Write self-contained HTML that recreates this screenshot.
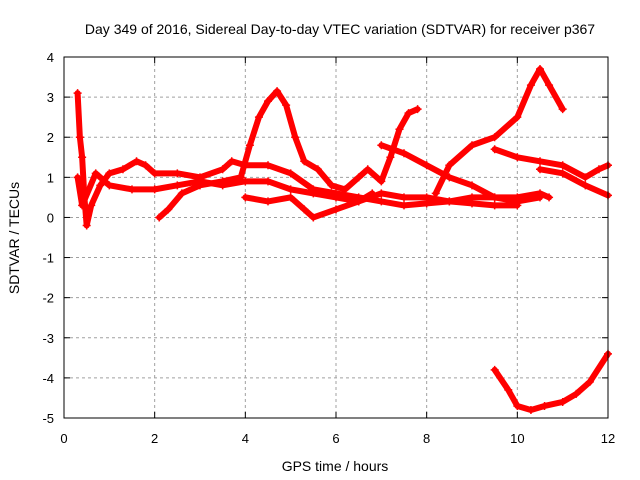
<!DOCTYPE html>
<html><head><meta charset="utf-8"><style>
body{margin:0;background:#fff;}
svg{display:block;font-family:"Liberation Sans",sans-serif;}
</style></head><body>
<svg id="chart" width="640" height="480">
<rect width="640" height="480" fill="#fff"/>
<text x="340" y="34" font-size="14" text-anchor="middle">Day 349 of 2016, Sidereal Day-to-day VTEC variation (SDTVAR) for receiver p367</text>
<text x="335" y="471" font-size="14" text-anchor="middle">GPS time / hours</text>
<text x="19" y="238" font-size="14" text-anchor="middle" transform="rotate(-90 19 238)">SDTVAR / TECUs</text>
<g id="grid"></g><g id="ticks"></g><g id="series"></g>
<rect x="64" y="57" width="544" height="361" fill="none" stroke="#000" stroke-width="1"/>
</svg>
<script>
const xTicks=[0,2,4,6,8,10,12];
const yTicks=[-5,-4,-3,-2,-1,0,1,2,3,4];
const s1=[[0.3,3.1],[0.35,2.0],[0.4,1.5],[0.45,0.5],[0.5,-0.2],[0.6,0.3],[0.8,0.8],[1.0,1.1],[1.3,1.2],[1.6,1.4],[1.8,1.3],[2.0,1.1],[2.5,1.1],[3.0,1.0],[3.5,1.2],[3.7,1.4],[4.0,1.3],[4.5,1.3],[5.0,1.1],[5.5,0.7],[6.0,0.6],[6.5,0.5],[7.0,0.4],[7.5,0.3],[8.0,0.35],[8.5,0.4],[9.0,0.5],[9.5,0.5],[10.0,0.5],[10.5,0.6],[10.7,0.5]];
const s2=[[0.3,1.0],[0.4,0.3],[0.7,1.1],[1.0,0.8],[1.5,0.7],[2.0,0.7],[2.5,0.8],[3.0,0.9],[3.5,0.8],[4.0,0.9],[4.5,0.9],[5.0,0.7],[5.5,0.6],[6.0,0.5],[6.5,0.4],[7.0,0.6],[7.5,0.5],[8.0,0.5],[8.5,0.4],[9.0,0.35],[9.5,0.3],[10.0,0.3]];
const s3=[[2.1,0.0],[2.3,0.2],[2.6,0.6],[3.0,0.8],[3.5,0.9],[3.9,1.0],[4.1,1.8],[4.3,2.5],[4.5,2.9],[4.7,3.15],[4.9,2.8],[5.1,2.0],[5.3,1.4],[5.6,1.2],[5.9,0.8],[6.2,0.7],[6.5,1.0],[6.7,1.2],[7.0,0.9],[7.2,1.5],[7.4,2.2],[7.6,2.6],[7.8,2.7]];
const s4=[[4.0,0.5],[4.5,0.4],[5.0,0.5],[5.3,0.2],[5.5,0.0],[6.0,0.2],[6.5,0.4],[6.8,0.6]];
const s5=[[7.0,1.8],[7.5,1.6],[8.0,1.3],[8.5,1.0],[9.0,0.8],[9.5,0.5],[10.0,0.4],[10.5,0.5]];
const s6=[[8.2,0.6],[8.5,1.3],[9.0,1.8],[9.5,2.0],[10.0,2.5],[10.3,3.3],[10.5,3.7],[10.7,3.3],[11.0,2.7]];
const s7=[[9.5,1.7],[10.0,1.5],[10.5,1.4],[11.0,1.3],[11.5,1.0],[11.8,1.2],[12.0,1.3]];
const s8=[[10.5,1.2],[11.0,1.1],[11.5,0.8],[12.0,0.55]];
const s9=[[9.5,-3.8],[9.8,-4.3],[10.0,-4.7],[10.3,-4.8],[10.6,-4.7],[11.0,-4.6],[11.3,-4.4],[11.6,-4.1],[12.0,-3.4]];
const allSeries=[s1,s2,s3,s4,s5,s6,s7,s8,s9];
const NS='http://www.w3.org/2000/svg';
const X=v=>64+v*(544/12);
const Y=v=>57+(4-v)*(361/9);
function mk(t,a,p){const e=document.createElementNS(NS,t);for(const k in a)e.setAttribute(k,a[k]);p.appendChild(e);return e;}
const grid=document.getElementById('grid'),ticks=document.getElementById('ticks'),ser=document.getElementById('series');
xTicks.forEach(v=>{
 if(v>0&&v<12){const g=mk('line',{x1:X(v),x2:X(v),y1:57,y2:418,stroke:'#a0a0a0','stroke-dasharray':'3,3'},grid);
 
 }
 mk('line',{x1:X(v),x2:X(v),y1:418,y2:412,stroke:'#000'},ticks);
 mk('line',{x1:X(v),x2:X(v),y1:57,y2:63,stroke:'#000'},ticks);
 const t=mk('text',{x:X(v),y:443,'font-size':13,'text-anchor':'middle'},ticks);t.textContent=v;
 
 
});
yTicks.forEach(v=>{
 if(v>-5&&v<4){const g=mk('line',{x1:64,x2:608,y1:Y(v),y2:Y(v),stroke:'#a0a0a0','stroke-dasharray':'3,3'},grid);
 
 }
 mk('line',{x1:64,x2:70,y1:Y(v),y2:Y(v),stroke:'#000'},ticks);
 mk('line',{x1:608,x2:602,y1:Y(v),y2:Y(v),stroke:'#000'},ticks);
 const t=mk('text',{x:54,y:Y(v)+5,'font-size':13,'text-anchor':'end'},ticks);t.textContent=v;
 
 
});
allSeries.forEach((s,i)=>{
 const g=mk('g',{},ser);
 
 
 mk('polyline',{points:s.map(p=>X(p[0])+','+Y(p[1])).join(' '),fill:'none',stroke:'#f00','stroke-width':6,'stroke-linejoin':'round','stroke-linecap':'round'},g);
 s.forEach(p=>{const m=mk('path',{d:`M${X(p[0])-4},${Y(p[1])}h8M${X(p[0])},${Y(p[1])-4}v8`,stroke:'#f00','stroke-width':1.5},g);
 
 });
});
</script>
</body></html>
